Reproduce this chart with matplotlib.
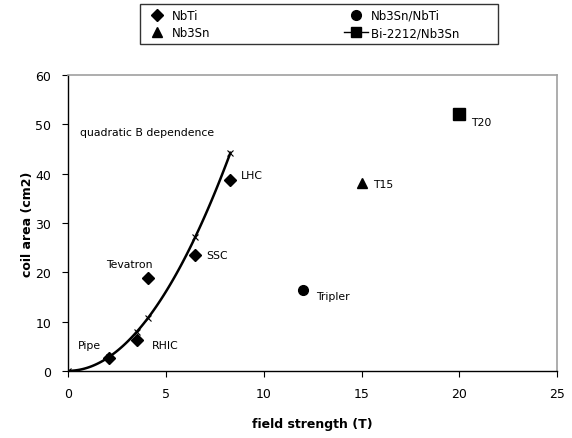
import numpy as np
import matplotlib.pyplot as plt
from matplotlib.lines import Line2D

plt.rcParams["font.family"] = ["DejaVu Sans"]

# NbTi magnets
nbti_names = ["Pipe", "RHIC", "Tevatron", "SSC", "LHC"]
nbti_b = [2.1, 3.5, 4.1, 6.5, 8.3]
nbti_area = [2.6, 6.3, 18.8, 23.4, 38.7]

# other conductors
nb3sn_b = [15.0]
nb3sn_area = [38.0]
hybrid_b = [12.0]
hybrid_area = [16.3]
bi_b = [20.0]
bi_area = [52.0]

# quadratic B dependence reference curve
quad_b = [0.0, 2.1, 3.5, 4.1, 6.5, 8.3]
quad_k = 0.642

fig = plt.figure(figsize=(5.72, 4.39), dpi=100)
ax = fig.add_axes([0.119, 0.153, 0.855, 0.674])

bb = np.linspace(0, max(quad_b), 100)
ax.plot(bb, quad_k * bb ** 2, color="black", lw=1.8)
qb = np.array(quad_b)
ax.plot(qb, quad_k * qb ** 2, ls="none", marker="x", color="black", ms=4, mew=0.8)

ax.plot(nbti_b, nbti_area, ls="none", marker="D", color="black", ms=6)
ax.plot(nb3sn_b, nb3sn_area, ls="none", marker="^", color="black", ms=7)
ax.plot(hybrid_b, hybrid_area, ls="none", marker="o", color="black", ms=7)
ax.plot(bi_b, bi_area, ls="none", marker="s", color="black", ms=8)

fs = 7.8
ax.text(0.6, 48.5, "quadratic B dependence", fontsize=fs, va="center")
ax.text(0.5, 5.3, "Pipe", fontsize=fs, va="center")
ax.text(4.3, 5.3, "RHIC", fontsize=fs, va="center")
ax.text(1.95, 21.6, "Tevatron", fontsize=fs, va="center")
ax.text(7.05, 23.4, "SSC", fontsize=fs, va="center")
ax.text(8.85, 39.8, "LHC", fontsize=fs, va="center")
ax.text(12.7, 15.2, "Tripler", fontsize=fs, va="center")
ax.text(15.6, 37.8, "T15", fontsize=fs, va="center")
ax.text(20.6, 50.5, "T20", fontsize=fs, va="center")

ax.set_xlim(0, 25)
ax.set_ylim(0, 60)
ax.set_xticks(range(0, 26, 5))
ax.set_yticks(range(0, 61, 10))
ax.tick_params(labelsize=9, length=4, direction="out", pad=8)
ax.set_xlabel("field strength (T)", fontsize=9, fontweight="bold", labelpad=12)
ax.set_ylabel("coil area (cm2)", fontsize=9, fontweight="bold", labelpad=1)
for s in ["top", "right"]:
    ax.spines[s].set_color("#a0a0a0")
    ax.spines[s].set_linewidth(1.2)
for s in ["left", "bottom"]:
    ax.spines[s].set_linewidth(1.0)

handles = [
    Line2D([], [], ls="none", marker="D", color="black", ms=6),
    Line2D([], [], ls="none", marker="^", color="black", ms=7),
    Line2D([], [], ls="none", marker="o", color="black", ms=7),
    Line2D([], [], ls="-", lw=1, marker="s", color="black", ms=7),
]
# trailing spaces widen the second column so it sits where the original does
labels = ["NbTi", "Nb3Sn", "Nb3Sn/NbTi", "Bi-2212/Nb3Sn" + " " * 9]
leg = fig.legend(handles, labels, ncol=2, loc="upper left", mode="expand",
                 bbox_to_anchor=(140 / 572, 1 - 51 / 439, 358 / 572, 46 / 439),
                 fontsize=8.5, frameon=True, fancybox=False, edgecolor="black",
                 handlelength=2.0, borderpad=0.4, labelspacing=0.4,
                 handletextpad=0.3, borderaxespad=0.0)
leg.get_frame().set_linewidth(1.0)

fig.savefig("out.png", dpi=100)
